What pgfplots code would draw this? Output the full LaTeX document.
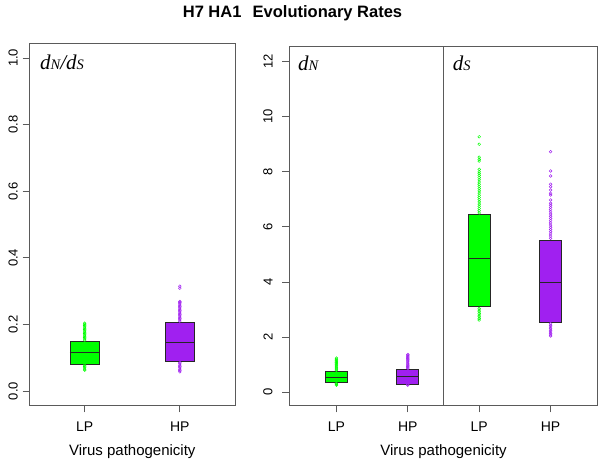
\documentclass[border=0pt]{standalone}
\usepackage{pgfplots}
\pgfplotsset{compat=1.18}
\usepgfplotslibrary{statistics}
\usepackage{fontspec}
\setmainfont{Liberation Sans}
\newfontfamily\timesf{Liberation Serif}
\definecolor{rgreen}{HTML}{00FF00}
\definecolor{rpurple}{HTML}{A020F0}
\definecolor{frame}{HTML}{5A5A5A}
\newcommand{\dlab}[1]{{\timesf\itshape\fontsize{21}{21}\selectfont d\fontsize{14.5}{14.5}\selectfont #1}}
\pgfplotsset{
  rstyle/.style={
    scale only axis,
    axis line style={draw=frame, line width=0.8pt},
    tick style={draw=frame, line width=0.8pt},
    tick align=outside,
    tick pos=left,
    major tick length=7pt,
    /pgf/number format/assume math mode=true,
    ticklabel style={font=\fontsize{13}{13}\selectfont},
    yticklabel style={rotate=90, anchor=south},
    xticklabel style={font=\fontsize{14}{14}\selectfont, inner sep=0pt, yshift=-9.5pt},
    xlabel style={font=\fontsize{15}{15}\selectfont, anchor=center},
    clip=false,
  },
  pts/.style={only marks, mark=o, mark size=1.4pt, mark options={line width=0.45pt, draw=#1}},
  rbox/.style={boxplot/draw direction=y, draw=black!85, line width=0.8pt, fill=#1,
    boxplot/box extend=0.31, boxplot/whisker extend=0},
}
\begin{document}
\begin{tikzpicture}
\useasboundingbox (0pt,0pt) rectangle (600pt,462pt);
\node[font=\bfseries\fontsize{16.5}{16.5}\selectfont] at (292.5pt,449pt) {H7 HA1\hspace{0.4em} Evolutionary Rates};

% ---------- left panel: dN/dS ----------
\begin{axis}[rstyle,
  at={(29.5pt,56.5pt)}, anchor=south west,
  width=205.5pt, height=362.2pt,
  xmin=0.42, xmax=2.58, ymin=-0.043, ymax=1.044,
  xtick={1,2}, xticklabels={LP,HP},
  ytick={0,0.2,0.4,0.6,0.8,1.0},
  yticklabels={0.0,0.2,0.4,0.6,0.8,1.0},
  yticklabel style={inner sep=4.5pt},
  xlabel={Virus pathogenicity},
  xlabel style={at={(axis description cs:0.5,-0.128)}},
]
\addplot[pts=rgreen] coordinates {
 (1,0.153) (1,0.157) (1,0.161) (1,0.165) (1,0.169) (1,0.173) (1,0.177) (1,0.181)
 (1,0.185) (1,0.189) (1,0.193) (1,0.197) (1,0.201) (1,0.204)
 (1,0.078) (1,0.074) (1,0.070) (1,0.066) (1,0.063)
};
\addplot[pts=rpurple] coordinates {
 (2,0.210) (2,0.214) (2,0.218) (2,0.222) (2,0.226) (2,0.230) (2,0.234) (2,0.238)
 (2,0.242) (2,0.246) (2,0.250) (2,0.254) (2,0.258) (2,0.262) (2,0.266) (2,0.269)
 (2,0.309) (2,0.315)
 (2,0.086) (2,0.082) (2,0.078) (2,0.074) (2,0.070) (2,0.066) (2,0.062) (2,0.058)
};
\addplot[rbox=rgreen, boxplot prepared={draw position=1, median=0.115,
  upper quartile=0.150, lower quartile=0.081, upper whisker=0.150, lower whisker=0.081}]
  coordinates {};
\addplot[rbox=rpurple, boxplot prepared={draw position=2, median=0.145,
  upper quartile=0.206, lower quartile=0.090, upper whisker=0.206, lower whisker=0.090}]
  coordinates {};
\node[anchor=base west, inner sep=0] at (axis cs:0.53,0.965) {\dlab{N}{\timesf\itshape\fontsize{21}{21}\selectfont/}\dlab{S}};
\end{axis}

% ---------- right panel: dN and dS ----------
\begin{axis}[rstyle,
  at={(289.3pt,56.5pt)}, anchor=south west,
  width=308.4pt, height=359.5pt,
  xmin=0.34, xmax=4.66, ymin=-0.478, ymax=12.55,
  xtick={1,2,3,4}, xticklabels={LP,HP,LP,HP},
  ytick={0,2,4,6,8,10,12},
  yticklabel style={inner sep=9.5pt},
  xlabel={Virus pathogenicity},
  xlabel style={at={(axis description cs:0.5,-0.1285)}},
]
\addplot[frame, line width=0.8pt] coordinates {(2.5,-0.478) (2.5,12.55)};
% dN LP
\addplot[pts=rgreen] coordinates {
 (1,0.80) (1,0.84) (1,0.88) (1,0.92) (1,0.96) (1,1.00) (1,1.04) (1,1.08) (1,1.12)
 (1,1.16) (1,1.20) (1,1.24)
 (1,0.32) (1,0.29) (1,0.26)
};
% dN HP
\addplot[pts=rpurple] coordinates {
 (2,0.86) (2,0.90) (2,0.94) (2,0.98) (2,1.02) (2,1.06) (2,1.10) (2,1.14) (2,1.18)
 (2,1.22) (2,1.26) (2,1.30) (2,1.34) (2,1.37)
 (2,0.28) (2,0.26)
};
% dS LP
\addplot[pts=rgreen] coordinates {
 (3,6.50) (3,6.58) (3,6.66) (3,6.74) (3,6.82) (3,6.90) (3,6.98) (3,7.06) (3,7.14)
 (3,7.22) (3,7.30) (3,7.38) (3,7.46) (3,7.54) (3,7.62) (3,7.70) (3,7.78) (3,7.86)
 (3,7.93) (3,7.99) (3,8.08) (3,8.38) (3,8.44) (3,8.52) (3,8.99) (3,9.26)
 (3,3.04) (3,2.98) (3,2.92) (3,2.86) (3,2.80) (3,2.74) (3,2.68) (3,2.62)
};
% dS HP
\addplot[pts=rpurple] coordinates {
 (4,5.58) (4,5.66) (4,5.74) (4,5.82) (4,5.90) (4,5.98) (4,6.06) (4,6.14) (4,6.22)
 (4,6.30) (4,6.38) (4,6.46) (4,6.54) (4,6.62) (4,6.70) (4,6.78) (4,6.85)
 (4,6.97) (4,7.15) (4,7.21) (4,7.33) (4,7.45) (4,7.54) (4,7.84) (4,8.02) (4,8.72)
 (4,2.49) (4,2.43) (4,2.37) (4,2.31) (4,2.25) (4,2.19) (4,2.13) (4,2.08) (4,2.04)
};
\addplot[rbox=rgreen, boxplot prepared={draw position=1, median=0.54,
  upper quartile=0.77, lower quartile=0.35, upper whisker=0.77, lower whisker=0.35}]
  coordinates {};
\addplot[rbox=rpurple, boxplot prepared={draw position=2, median=0.59,
  upper quartile=0.83, lower quartile=0.30, upper whisker=0.83, lower whisker=0.30}]
  coordinates {};
\addplot[rbox=rgreen, boxplot prepared={draw position=3, median=4.85,
  upper quartile=6.44, lower quartile=3.10, upper whisker=6.44, lower whisker=3.10}]
  coordinates {};
\addplot[rbox=rpurple, boxplot prepared={draw position=4, median=3.98,
  upper quartile=5.52, lower quartile=2.55, upper whisker=5.52, lower whisker=2.55}]
  coordinates {};
\node[anchor=base west, inner sep=0] at (axis cs:0.46,11.65) {\dlab{N}};
\node[anchor=base west, inner sep=0] at (axis cs:2.63,11.65) {\dlab{S}};
\end{axis}
\end{tikzpicture}
\end{document}
